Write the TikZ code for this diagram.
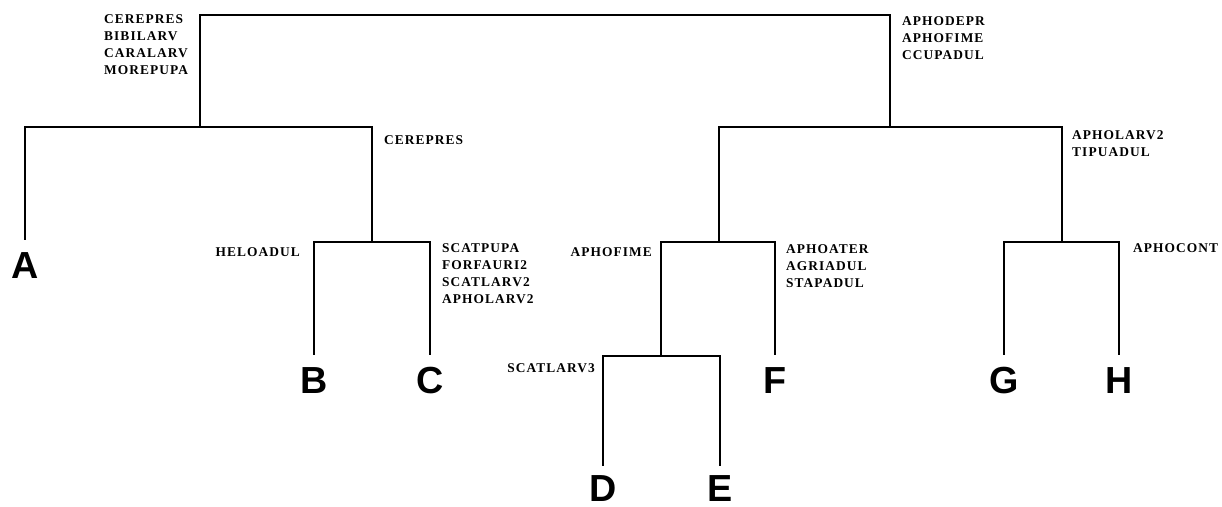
\documentclass[tikz,border=0pt]{standalone}
\usepackage{fontspec}
\newfontfamily\lblfont[LetterSpace=8]{Liberation Serif}
\newfontfamily\leaffont{Liberation Sans}
\begin{document}
\begin{tikzpicture}[x=1pt,y=-1pt,
  branch/.style={line width=2.4pt,line cap=rect},
  leaf/.style={inner sep=0pt,outer xsep=0pt,outer ysep=13pt,text height=27pt,text depth=0pt,
    font=\leaffont\bfseries\fontsize{37.7}{37.7}\selectfont},
  lbl/.style={inner sep=0pt,align=left,font=\lblfont\bfseries\fontsize{13.4}{17}\selectfont},
  lblr/.style={inner sep=0pt,align=right,font=\lblfont\bfseries\fontsize{13.4}{17}\selectfont}]
\useasboundingbox (0,0) rectangle (1222,506);
% internal nodes
\coordinate (root) at (545,15);
\coordinate (nL) at (200,127);
\coordinate (nBC) at (372,242);
\coordinate (nR) at (890,127);
\coordinate (nDEF) at (719,242);
\coordinate (nDE) at (661,356);
\coordinate (nGH) at (1062,242);
% leaves
\node[leaf] (A) at (25,265) {A};
\node[leaf] (B) at (314,380) {B};
\node[leaf] (C) at (430,380) {C};
\node[leaf] (D) at (603,488) {D};
\node[leaf] (E) at (720,488) {E};
\node[leaf] (F) at (775,380) {F};
\node[leaf] (G) at (1004,380) {G};
\node[leaf] (H) at (1119,380) {H};
% tree
\draw[branch] (nL) |- (root) -| (nR);
\draw[branch] (A.north) |- (nL) -| (nBC);
\draw[branch] (B.north) |- (nBC) -| (C.north);
\draw[branch] (nDEF) |- (nR) -| (nGH);
\draw[branch] (nDE) |- (nDEF) -| (F.north);
\draw[branch] ([yshift=-3pt]D.north) |- (nDE) -| ([yshift=-3pt]E.north);
\draw[branch] (G.north) |- (nGH) -| (H.north);
% labels
\node[lbl,anchor=north west] (l1) at (104,14.5) {CEREPRES\\BIBILARV\\CARALARV\\MOREPUPA};
\node[lbl,anchor=north west] (l2) at (902,16.5) {APHODEPR\\APHOFIME\\CCUPADUL};
\node[lbl,anchor=north west] (l3) at (384,135.5) {CEREPRES};
\node[lbl,anchor=north west] (l4) at (1072,130.5) {APHOLARV2\\TIPUADUL};
\node[lblr,anchor=north east] (l5) at (300,247.5) {HELOADUL};
\node[lbl,anchor=north west] (l6) at (442,243.5) {SCATPUPA\\FORFAURI2\\SCATLARV2\\APHOLARV2};
\node[lblr,anchor=north east] (l7) at (652,247.5) {APHOFIME};
\node[lbl,anchor=north west] (l8) at (786,244.5) {APHOATER\\AGRIADUL\\STAPADUL};
\node[lblr,anchor=north east] (l9) at (595,363.5) {SCATLARV3};
\node[lbl,anchor=north west] (l10) at (1133,243.5) {APHOCONT};
\end{tikzpicture}
\end{document}
